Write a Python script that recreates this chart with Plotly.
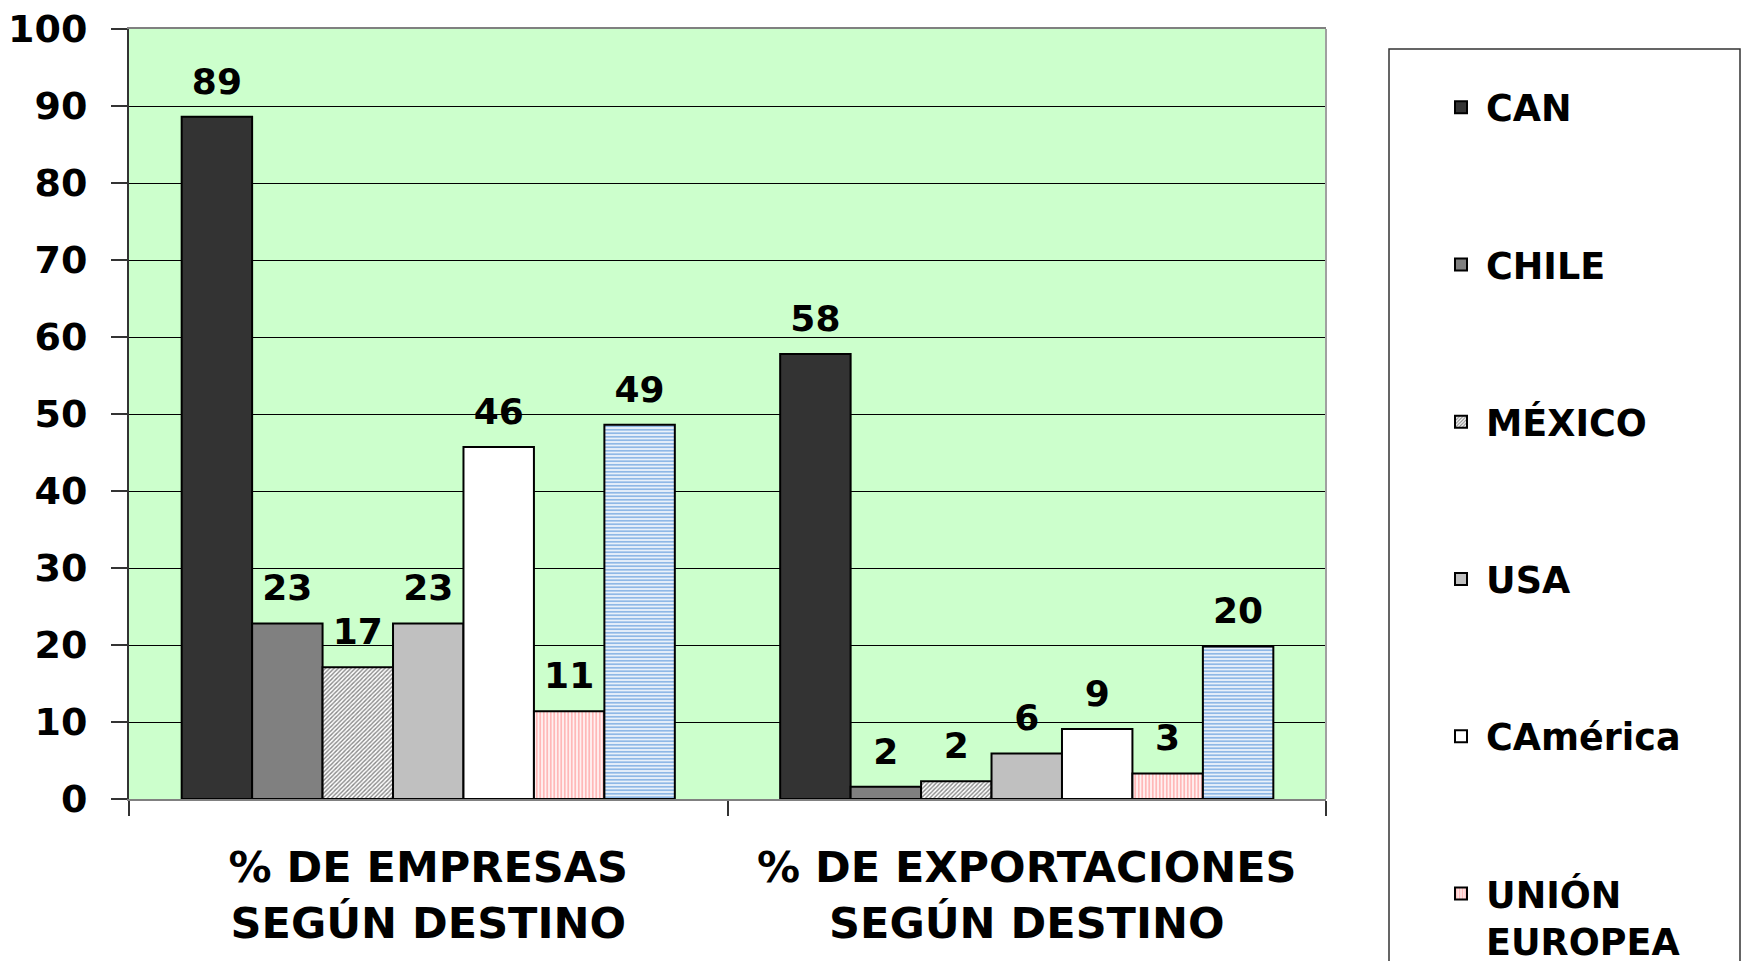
import plotly.graph_objects as go

# ---- data ----
categories = ["% DE EMPRESAS<br>SEGÚN DESTINO", "% DE EXPORTACIONES<br>SEGÚN DESTINO"]
series = ["CAN", "CHILE", "MÉXICO", "USA", "CAmérica", "UNIÓN<br>EUROPEA", "OTROS"]
empresas = [88.6, 22.8, 17.1, 22.8, 45.7, 11.4, 48.6]
exportaciones = [57.8, 1.6, 2.3, 5.9, 9.1, 3.3, 19.8]
y_ticks = [0, 10, 20, 30, 40, 50, 60, 70, 80, 90, 100]

# ---- styles ----
FONT = "DejaVu Sans, Liberation Sans, Arial, sans-serif"
fills = ["#333333", "#808080", "#ffffff", "#c0c0c0", "#ffffff", "#ffffff", "#ffffff"]
patterns = [
    dict(shape=""),
    dict(shape=""),
    dict(shape="/", fgcolor="#888888", bgcolor="#ffffff", size=3, solidity=0.45, fillmode="replace"),
    dict(shape=""),
    dict(shape=""),
    dict(shape="|", fgcolor="#ffb8b8", bgcolor="#ffffff", size=3.5, solidity=0.6, fillmode="replace"),
    dict(shape="-", fgcolor="#8fb8e6", bgcolor="#ffffff", size=3.5, solidity=0.6, fillmode="replace"),
]

fig = go.Figure()
for i, name in enumerate(series):
    vals = [empresas[i], exportaciones[i]]
    fig.add_trace(go.Bar(
        x=categories, y=vals, name=name, legendgroup=name,
        marker=dict(color=fills[i], line=dict(color="black", width=2), pattern=patterns[i]),
        hoverinfo="x+y+name",
    ))
for i, name in enumerate(series):
    vals = [empresas[i], exportaciones[i]]
    fig.add_trace(go.Scatter(
        x=categories, y=vals, mode="markers+text", legendgroup=name, showlegend=False,
        texttemplate="%{y:.0f}", textposition="top center",
        textfont=dict(family=FONT, size=36, color="black", weight="bold"),
        marker=dict(size=21, opacity=0), hoverinfo="skip", cliponaxis=False,
    ))

W, H = 1744, 961
L, R, T, B = 129, 1326, 29, 799
px = lambda x: (x - L) / (R - L)
py = lambda y: (B - y) / (B - T)

fig.update_layout(
    width=W, height=H,
    margin=dict(l=L, r=W - R, t=T, b=H - B, autoexpand=False),
    plot_bgcolor="#ccffcc", paper_bgcolor="white",
    barmode="group", bargap=0.176, bargroupgap=0,
    scattermode="group", scattergap=0.176,
    font=dict(family=FONT, color="black", weight="bold"),
    xaxis=dict(
        type="category", showline=True, linecolor="#808080", linewidth=2, mirror=True,
        ticks="outside", tickson="boundaries", ticklen=15, tickcolor="#333333", tickwidth=1.5,
        tickfont=dict(family=FONT, size=43, color="black", weight="bold"),
        ticklabelstandoff=29, showgrid=False,
    ),
    yaxis=dict(
        range=[0, 100], tickvals=y_ticks, showline=True, linecolor="#333333", linewidth=2,
        ticks="outside", ticklen=16, tickcolor="#333333", tickwidth=1.5,
        gridcolor="black", gridwidth=1, zeroline=False,
        tickfont=dict(family=FONT, size=38, color="black", weight="bold"),
        ticklabelstandoff=16,
    ),
    legend=dict(
        x=1436 / W, xref="container", xanchor="left",
        y=1 - 77 / H, yref="container", yanchor="top",
        font=dict(family=FONT, size=36.5, color="black", weight="bold"),
        tracegroupgap=106.8, traceorder="grouped", itemwidth=40,
        bgcolor="rgba(0,0,0,0)", borderwidth=0, maxheight=3000, valign="top",
    ),
    shapes=[
        dict(type="line", xref="paper", yref="paper", x0=1, x1=1, y0=0, y1=1,
             line=dict(color="#a0a0a0", width=2)),
        dict(type="rect", xref="paper", yref="paper", x0=px(1389), x1=px(1740),
             y0=py(49), y1=py(1100), line=dict(color="#333333", width=1.5),
             fillcolor="rgba(0,0,0,0)", layer="below"),
    ],
    showlegend=True,
)

fig.write_html("out.html", config={"displayModeBar": False},
               post_script="document.body.style.margin='0';")
